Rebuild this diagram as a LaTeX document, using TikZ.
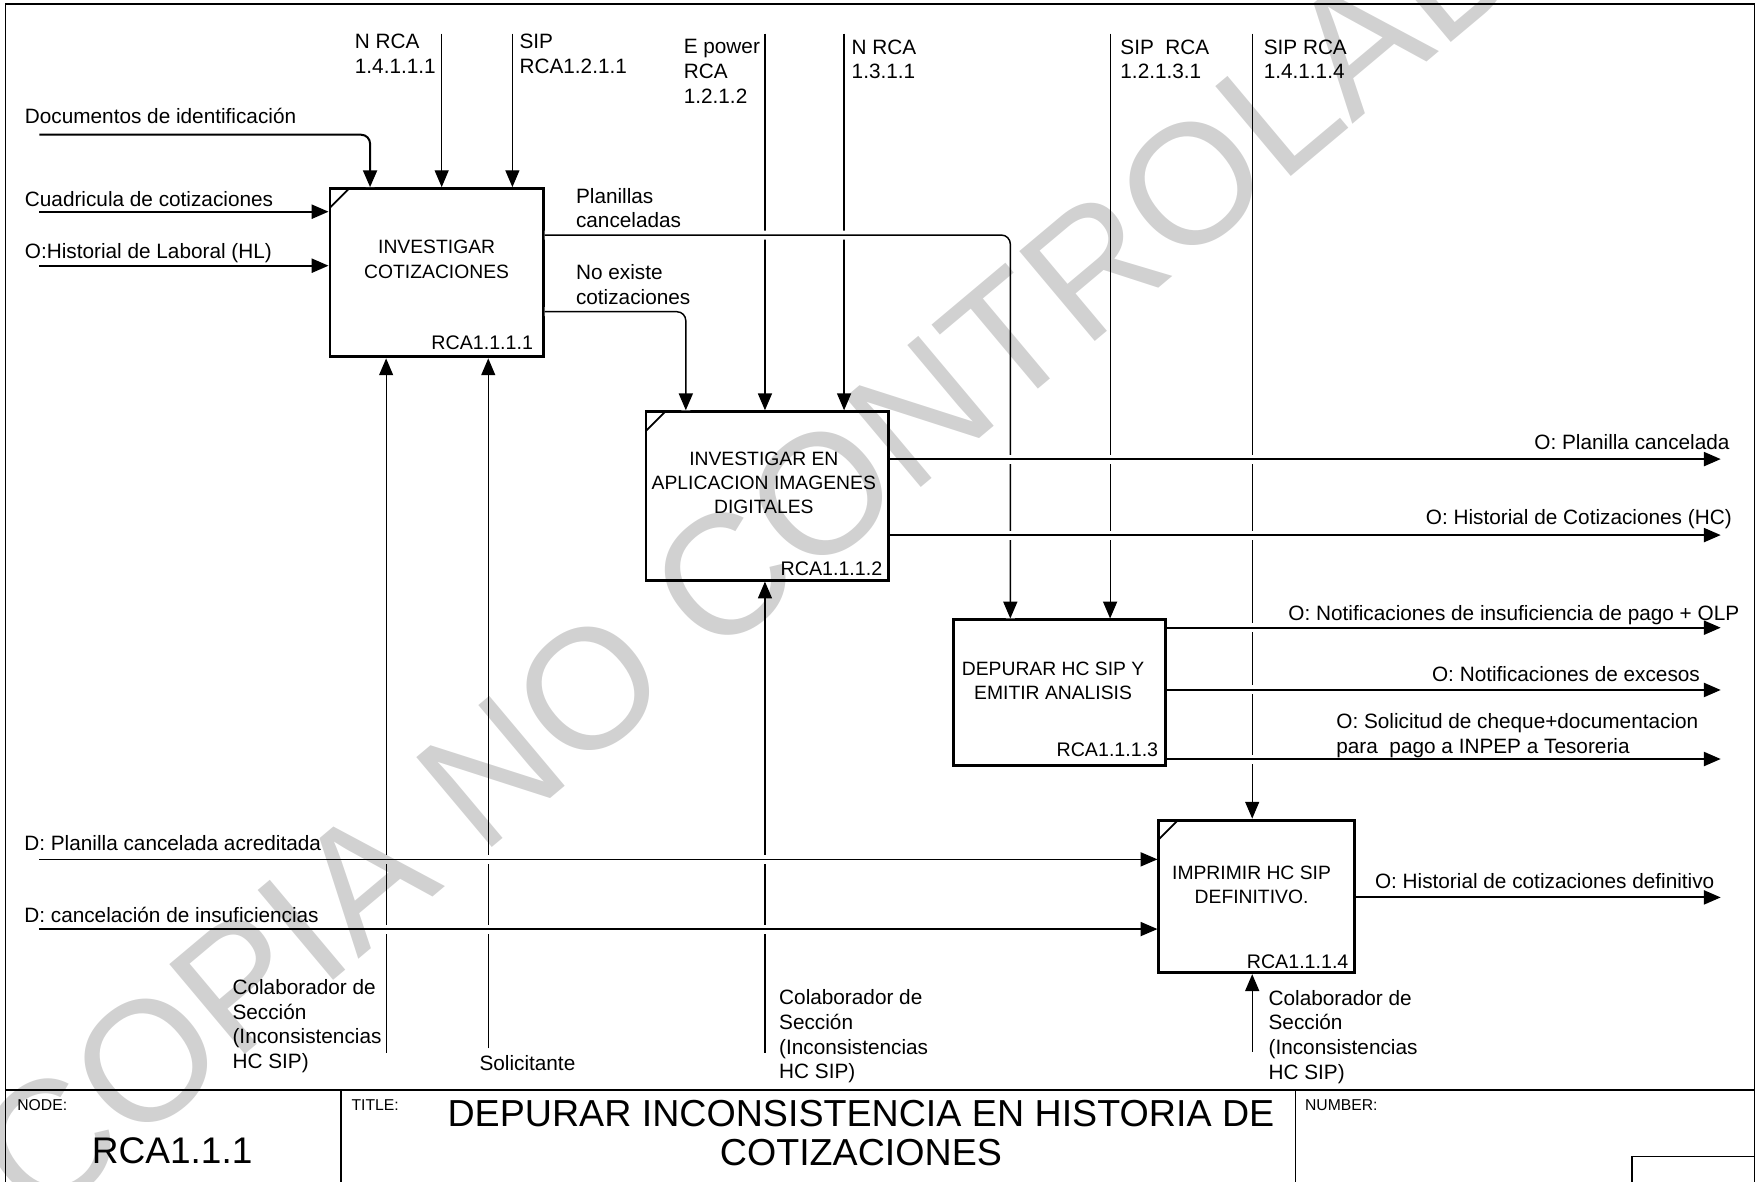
\documentclass[tikz,border=0pt]{standalone}
\usepackage{fontspec}
\setmainfont{Liberation Sans}
\usetikzlibrary{arrows.meta,positioning}

\begin{document}
\begin{tikzpicture}[x=1pt,y=-1pt,>={Triangle[length=15pt,width=12.5pt]},
                    font=\fontsize{18.5}{22}\selectfont]
  \tikzstyle{act}=[draw,line width=2.6pt,inner sep=0pt]
  \tikzstyle{corner}=[path picture={\draw[line width=1.6pt]
      ([yshift=-17pt]path picture bounding box.north west) --
      ([xshift=17pt]path picture bounding box.north west);}]
  \tikzstyle{acttext}=[align=center,inner sep=0pt,font=\fontsize{17.2}{21.5}\selectfont]
  \tikzstyle{num}=[anchor=south east,inner sep=0pt,font=\fontsize{17.5}{20}\selectfont]
  \tikzstyle{ctrl}=[->,line width=1.1pt]
  \tikzstyle{flow}=[->,line width=1.8pt,preaction={draw=white,line width=8pt,arrows=-}]
  \tikzstyle{txt}=[inner sep=0pt,align=left]
  \tikzstyle{small}=[inner sep=0pt,anchor=base west,font=\fontsize{14}{16}\selectfont]

  \useasboundingbox (0,0) rectangle (1568,1053);

  % frame and title block
  \draw[line width=1.5pt] (5,3.5) rectangle (1563,1070);
  \draw[line width=1.3pt] (5,971) -- (1563,971)
        (304,971) -- (304,1070) (1154,971) -- (1154,1070)
        (1454,1070) |- (1563,1030.5);
  \node[small] (node) at (15.3,989.5) {NODE:};
  \node[small] (title) at (313,989.5) {TITLE:};
  \node[small] (number) at (1162.5,989.5) {NUMBER:};
  \node[inner sep=0pt,anchor=base,font=\fontsize{33}{35}\selectfont] (nodeid) at (153.4,1036.4) {RCA1.1.1};
  \node[inner sep=0pt,anchor=north,align=center,font=\fontsize{33.5}{35}\selectfont] (titletext) at (767,980)
       {DEPURAR INCONSISTENCIA EN HISTORIA DE\\COTIZACIONES};

  % activities
  \node[act,corner,minimum width=190pt,minimum height=150pt] (A1) at (389,243) {};
  \node[act,corner,minimum width=216pt,minimum height=150pt] (A2) at (683.5,441.8) {};
  \node[act,minimum width=189pt,minimum height=130pt] (A3) at (944.2,617.3) {};
  \node[act,corner,minimum width=174pt,minimum height=136pt] (A4) at (1119.5,798.6) {};

  \node[acttext] (A1t) at ([yshift=12pt]A1.center) {INVESTIGAR\\COTIZACIONES};
  \node[acttext] (A2t) at ([xshift=-3pt,yshift=11.8pt]A2.center) {INVESTIGAR EN\\APLICACION IMAGENES\\DIGITALES};
  \node[acttext] (A3t) at ([xshift=-6pt,yshift=10.7pt]A3.center) {DEPURAR HC SIP Y\\EMITIR ANALISIS};
  \node[acttext] (A4t) at ([xshift=-4.5pt,yshift=10.4pt]A4.center) {IMPRIMIR HC SIP\\DEFINITIVO.};

  \node[num] (A1n) at ([xshift=-10.3pt,yshift=7.3pt]A1.south east) {RCA1.1.1.1};
  \node[num] (A2n) at ([xshift=-6.6pt,yshift=5.4pt]A2.south east) {RCA1.1.1.2};
  \node[num] (A3n) at ([xshift=-8pt,yshift=9pt]A3.south east) {RCA1.1.1.3};
  \node[num] (A4n) at ([xshift=-6.3pt,yshift=4.8pt]A4.south east) {RCA1.1.1.4};

  % free ends
  \coordinate (i1) at (35,120);
  \coordinate (i2) at (35,188.6);
  \coordinate (i3) at (35,236.7);
  \coordinate (i4) at (34.8,765.6);
  \coordinate (i5) at (34.8,827.7);
  \coordinate (c1) at (393.5,30);
  \coordinate (c2) at (456.5,30);
  \coordinate (c3) at (681.5,30);
  \coordinate (c4) at (752,30);
  \coordinate (c5) at (989,30);
  \coordinate (c6) at (1115.6,30);
  \coordinate (m1) at (344,938);
  \coordinate (m2) at (435,934);
  \coordinate (m3) at (681.5,938);
  \coordinate (m4) at (1115.6,937);
  \coordinate (o1) at (1533,409);
  \coordinate (o2) at (1533,476.7);
  \coordinate (o3) at (1533,559.2);
  \coordinate (o4) at (1533,614.7);
  \coordinate (o5) at (1533,676.2);
  \coordinate (o6) at (1533,799.5);

  % controls and mechanisms
  \draw[ctrl] (c1) -- (c1 |- A1.north);
  \draw[ctrl] (c2) -- (c2 |- A1.north);
  \draw[ctrl] (c3) -- (c3 |- A2.north);
  \draw[ctrl] (c4) -- (c4 |- A2.north);
  \draw[ctrl] (c5) -- (c5 |- A3.north);
  \draw[ctrl] (c6) -- (c6 |- A4.north);
  \draw[ctrl] (m1) -- (m1 |- A1.south);
  \draw[ctrl] (m2) -- (m2 |- A1.south);
  \draw[ctrl] (m3) -- (m3 |- A2.south);
  \draw[ctrl] (m4) -- (m4 |- A4.south);

  % inputs
  \draw[flow,rounded corners=8pt] (i1) -| ([xshift=37pt]A1.north west);
  \draw[flow] (i2) -- (i2 -| A1.west);
  \draw[flow] (i3) -- (i3 -| A1.west);

  % between activities
  \draw[flow,line width=1.3pt,rounded corners=8pt] ([yshift=33.6pt]A1.east) -| ([xshift=51.7pt]A3.north west);
  \draw[flow,line width=1.3pt,rounded corners=8pt] ([yshift=-34.7pt]A1.east) -| ([xshift=36.8pt]A2.north west);

  % outputs
  \draw[flow] (o1 -| A2.east) -- (o1);
  \draw[flow] (o2 -| A2.east) -- (o2);
  \draw[flow] (o3 -| A3.east) -- (o3);
  \draw[flow] (o4 -| A3.east) -- (o4);
  \draw[flow] (o5 -| A3.east) -- (o5);
  \draw[flow] (o6 -| A4.east) -- (o6);
  \draw[flow,line width=1.4pt] (i4) -- (i4 -| A4.west);
  \draw[flow,line width=1.4pt] (i5) -- (i5 -| A4.west);

  % arrow labels
  \node[txt,anchor=base west] (li1) at (22,109.6) {Documentos de identificación};
  \node[txt,anchor=base west] (li2) at (22,184.3) {Cuadricula de cotizaciones};
  \node[txt,anchor=base west] (li3) at (22,230.6) {O:Historial de Laboral (HL)};
  \node[txt,anchor=base west] (li4) at (21.5,758) {D: Planilla cancelada acreditada};
  \node[txt,anchor=base west] (li5) at (21.5,821.8) {D: cancelación de insuficiencias};
  \node[txt,anchor=north west] (lc1) at (316,30.5) {N RCA\\1.4.1.1.1};
  \node[txt,anchor=north west] (lc2) at (462.7,30.5) {SIP\\RCA1.2.1.1};
  \node[txt,anchor=north west] (lc3) at (609,35) {E power\\RCA\\1.2.1.2};
  \node[txt,anchor=north west] (lc4) at (758.6,35) {N RCA\\1.3.1.1};
  \node[txt,anchor=north west] (lc5) at (998,35) {SIP~ RCA\\1.2.1.3.1};
  \node[txt,anchor=north west] (lc6) at (1125.7,35) {SIP RCA\\1.4.1.1.4};
  \node[txt,anchor=north west] (lf1) at (513,167.4) {Planillas\\canceladas};
  \node[txt,anchor=north west] (lf2) at (513,235.4) {No existe\\cotizaciones};
  \node[txt,anchor=north west] (lm1) at (207,872.4) {Colaborador de\\Sección\\(Inconsistencias\\HC SIP)};
  \node[txt,anchor=base west] (lm2) at (427,953.6) {Solicitante};
  \node[txt,anchor=north west] (lm3) at (694,881.4) {Colaborador de\\Sección\\(Inconsistencias\\HC SIP)};
  \node[txt,anchor=north west] (lm4) at (1130,882) {Colaborador de\\Sección\\(Inconsistencias\\HC SIP)};
  \node[txt,anchor=base east] (lo1) at (1541,400.1) {O: Planilla cancelada};
  \node[txt,anchor=base east] (lo2) at (1543,467.5) {O: Historial de Cotizaciones (HC)};
  \node[txt,anchor=base east] (lo3) at (1549.7,552.5) {O: Notificaciones de insuficiencia de pago + OLP};
  \node[txt,anchor=base east] (lo4) at (1514.6,607.1) {O: Notificaciones de excesos};
  \node[txt,anchor=north west] (lo5) at (1190.4,635.4) {O: Solicitud de cheque+documentacion\\para~ pago a INPEP a Tesoreria};
  \node[txt,anchor=base east] (lo6) at (1527.5,791.2) {O: Historial de cotizaciones definitivo};

  % watermark
  \node[inner sep=0pt,rotate=40,text opacity=0.18,font=\fontsize{152}{152}\selectfont] (marca) at (706,462)
       {COPIA NO CONTROLADA};
\end{tikzpicture}
\end{document}
